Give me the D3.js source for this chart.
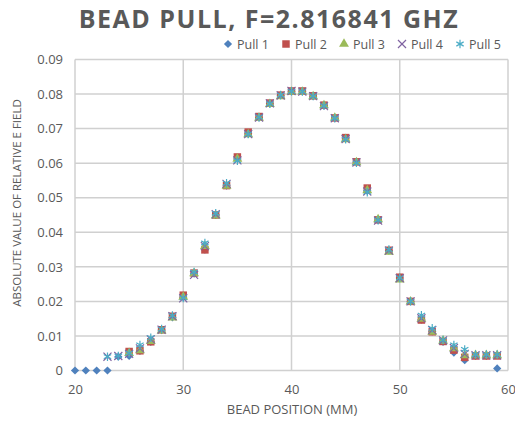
<!DOCTYPE html>
<html>
<head>
<meta charset="utf-8">
<script src="https://cdn.jsdelivr.net/npm/d3@7"></script>
<style>
  body { margin: 0; background: #fff; }
  text { font-family: "Open Sans", sans-serif; fill: #595959; }
</style>
</head>
<body>
<div id="chart"></div>
<script>
// data
var positions = d3.range(20, 60);   // 20..59 mm
var seriesNames = ["Pull 1", "Pull 2", "Pull 3", "Pull 4", "Pull 5"];
var xTicks = [20, 30, 40, 50, 60];
var yTicks = [0, 0.01, 0.02, 0.03, 0.04, 0.05, 0.06, 0.07, 0.08, 0.09];

// values per position, null = no point
var pull1 = [0, 0, 0, 0, 0.0040, 0.0042, 0.0057, 0.0083, 0.0117, 0.0154,
  0.0212, 0.0280, 0.0350, 0.0450, 0.0535, 0.0615, 0.0685, 0.0732, 0.0772, 0.0796,
  0.0808, 0.0808, 0.0794, 0.0767, 0.0730, 0.0673, 0.0603, 0.0520, 0.0435, 0.0347,
  0.0268, 0.0200, 0.0147, 0.0113, 0.0083, 0.0052, 0.0030, 0.0042, 0.0042, 0.0006];
var pull2 = [null, null, null, null, null, 0.0055, 0.0057, 0.0083, 0.0118, 0.0157,
  0.0218, 0.0282, 0.0349, 0.0450, 0.0535, 0.0618, 0.0690, 0.0735, 0.0774, 0.0797,
  0.0809, 0.0809, 0.0795, 0.0768, 0.0731, 0.0674, 0.0604, 0.0528, 0.0436, 0.0348,
  0.0270, 0.0200, 0.0146, 0.0112, 0.0084, 0.0059, 0.0038, 0.0042, 0.0042, 0.0042];
var pull3 = [null, null, null, null, null, 0.0050, 0.0058, 0.0085, 0.0115, 0.0153,
  0.0213, 0.0281, 0.0360, 0.0448, 0.0534, 0.0612, 0.0683, 0.0731, 0.0771, 0.0793,
  0.0806, 0.0806, 0.0793, 0.0767, 0.0731, 0.0669, 0.0602, 0.0521, 0.0437, 0.0343,
  0.0263, 0.0199, 0.0149, 0.0112, 0.0086, 0.0064, 0.0044, 0.0044, 0.0044, 0.0044];
var pull4 = [null, null, null, 0.0040, 0.0042, 0.0048, 0.0064, 0.0090, 0.0118, 0.0157,
  0.0209, 0.0277, 0.0360, 0.0452, 0.0540, 0.0608, 0.0684, 0.0732, 0.0773, 0.0796,
  0.0809, 0.0807, 0.0794, 0.0765, 0.0730, 0.0670, 0.0602, 0.0518, 0.0434, 0.0347,
  0.0267, 0.0200, 0.0151, 0.0117, 0.0087, 0.0065, 0.0048, 0.0044, 0.0044, 0.0044];
var pull5 = [null, null, null, 0.0040, 0.0042, 0.0050, 0.0074, 0.0095, 0.0120, 0.0159,
  0.0210, 0.0285, 0.0369, 0.0455, 0.0542, 0.0607, 0.0684, 0.0733, 0.0772, 0.0797,
  0.0808, 0.0807, 0.0794, 0.0766, 0.0730, 0.0669, 0.0601, 0.0516, 0.0435, 0.0350,
  0.0268, 0.0200, 0.0160, 0.0122, 0.0088, 0.0074, 0.0061, 0.0046, 0.0046, 0.0046];

var allSeries = [pull1, pull2, pull3, pull4, pull5];
var colors = ["#4F81BD", "#C0504D", "#9BBB59", "#8064A2", "#4BACC6"];

var width = 515, height = 424;
var margin = {left: 75, right: 7, top: 59.5, bottom: 53.5};

var svg = d3.select("#chart").append("svg")
  .attr("width", width)
  .attr("height", height);

var x = d3.scaleLinear().domain([20, 60]).range([margin.left, width - margin.right]);
var y = d3.scaleLinear().domain([0, 0.09]).range([height - margin.bottom, margin.top]);

// gridlines
svg.append("g").selectAll("line.h").data(yTicks).enter().append("line")
  .attr("x1", x(20)).attr("x2", x(60))
  .attr("y1", function(d){ return y(d); }).attr("y2", function(d){ return y(d); })
  .attr("stroke", "#D0D0D0").attr("stroke-width", 1.5);
svg.append("g").selectAll("line.v").data(xTicks).enter().append("line")
  .attr("y1", y(0)).attr("y2", y(0.09))
  .attr("x1", function(d){ return x(d); }).attr("x2", function(d){ return x(d); })
  .attr("stroke", "#D0D0D0").attr("stroke-width", 1.5);

// axes labels
var yAxis = d3.axisLeft(y).tickValues(yTicks).tickSize(0).tickPadding(12)
  .tickFormat(function(d){ return d === 0 ? "0" : d3.format(".2f")(d); });
var gy = svg.append("g").attr("transform", "translate(" + x(20) + ",0)").call(yAxis);
gy.select(".domain").remove();
gy.selectAll("text").style("font-size", "13px").attr("fill", "#595959");

var xAxis = d3.axisBottom(x).tickValues(xTicks).tickSize(0).tickPadding(14);
var gx = svg.append("g").attr("transform", "translate(0," + y(0) + ")").call(xAxis);
gx.select(".domain").remove();
gx.selectAll("text").style("font-size", "13px").attr("fill", "#595959");

// markers (diamond = rotated square, like excel's)
var symbols = [
  function(){ return d3.symbol().type(d3.symbolSquare).size(34)(); },
  function(){ return d3.symbol().type(d3.symbolSquare).size(56)(); },
  function(){ return d3.symbol().type(d3.symbolTriangle).size(42)(); },
  function(){ return d3.symbol().type(d3.symbolX).size(44)(); },
  function(){ return d3.symbol().type(d3.symbolAsterisk).size(50)(); }
];

function markerPath(i, sel, c) {
  var p = sel.append("path").attr("d", symbols[i]());
  if (i === 0) p.attr("transform", "rotate(45)");
  if (i >= 3) {
    p.attr("fill", "none").attr("stroke", c).attr("stroke-width", 1.2);
  } else {
    p.attr("fill", c);
  }
}

allSeries.forEach(function(vals, i) {
  var pts = positions.map(function(p, k){ return {x: p, v: vals[k]}; })
    .filter(function(d){ return d.v !== null; });
  var g = svg.append("g");
  g.selectAll("g").data(pts).enter().append("g")
    .attr("transform", function(d){ return "translate(" + x(d.x) + "," + y(d.v) + ")"; })
    .each(function(){ markerPath(i, d3.select(this), colors[i]); });
});

// title
svg.append("text")
  .attr("x", 269).attr("y", 28)
  .attr("text-anchor", "middle")
  .style("font-size", "25px").style("font-weight", "bold")
  .style("letter-spacing", "1.5px")
  .text("BEAD PULL, F=2.816841 GHZ");

// legend
var legX = [228, 286, 344, 402, 460];
seriesNames.forEach(function(n, i) {
  var g = svg.append("g").attr("transform", "translate(" + legX[i] + ",44)");
  markerPath(i, g, colors[i]);
  g.append("text").attr("x", 9).attr("y", 4.5).style("font-size", "12.5px").text(n);
});

// axis titles
svg.append("text")
  .attr("x", 292).attr("y", 414)
  .attr("text-anchor", "middle")
  .style("font-size", "13px")
  .text("BEAD POSITION (MM)");

svg.append("text")
  .attr("transform", "translate(21,203) rotate(-90)")
  .attr("text-anchor", "middle")
  .style("font-size", "11.5px")
  .text("ABSOLUTE VALUE OF RELATIVE E FIELD");
</script>
</body>
</html>
